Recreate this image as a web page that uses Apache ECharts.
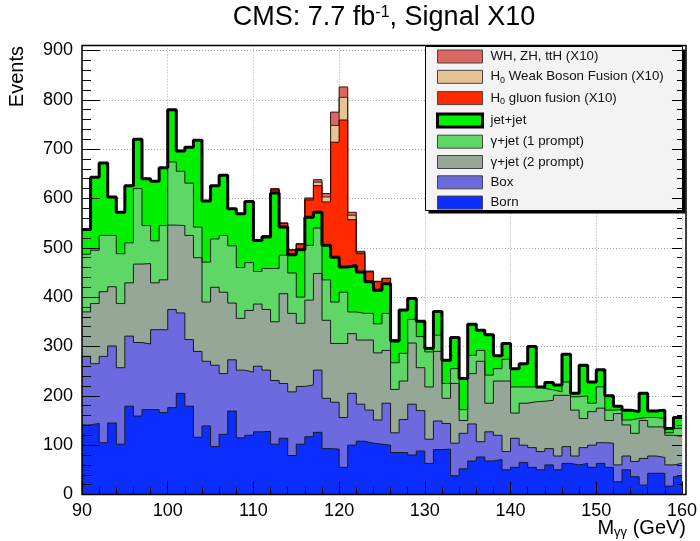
<!DOCTYPE html>
<html>
<head>
<meta charset="utf-8">
<script src="https://cdn.jsdelivr.net/npm/echarts@6/dist/echarts.min.js"></script>
<style>
html, body { margin: 0; padding: 0; background: #fff; }
#chart { width: 700px; height: 541px; }
</style>
</head>
<body>
<div id="chart"></div>
<script>
// Bin edges of the diphoton mass histogram (GeV), 1 GeV bins
const binEdges = [90,91,92,93,94,95,96,97,98,99,100,101,102,103,104,105,106,107,108,109,
  110,111,112,113,114,115,116,117,118,119,120,121,122,123,124,125,126,127,128,129,
  130,131,132,133,134,135,136,137,138,139,140,141,142,143,144,145,146,147,148,149,
  150,151,152,153,154,155,156,157,158,159,160];

// Events per bin for each contribution (bottom of the stack first)
const born = [141,144,105,145,102,179,159,172,172,166, 176,205,179,116,139,97,122,169,115,120,
  127,128,102,114,79,102,117,126,93,92, 55,100,108,104,102,100,85,85,80,88,
  63,91,92,38,52,68,76,68,71,50, 55,65,55,50,60,50,63,60,63,55,
  63,55,26,50,36,19,43,43,17,36];
const box = [139,121,175,156,155,142,149,133,162,168, 199,163,135,174,131,165,123,104,137,128,
  133,124,129,111,129,117,105,126,102,95, 101,105,75,67,49,85,40,67,103,82,
  49,58,52,66,72,75,31,59,49,37, 59,35,40,37,33,28,34,18,32,45,
  42,49,34,28,31,54,35,32,43,27];
const gammaJet2 = [90,122,131,120,130,108,159,163,95,101, 171,177,211,190,120,158,165,115,105,125,
  126,123,119,182,159,128,172,196,158,119, 150,121,130,142,136,107,88,78,124,87,
  106,141,51,121,26,102,163,58,110,143, 51,85,93,102,98,123,104,93,59,68,
  70,46,104,63,57,77,59,62,60,55];
const gammaJet1 = [117,108,114,104,101,81,153,77,85,110, 128,110,106,62,81,98,115,116,103,97,
  66,83,108,78,82,53,111,92,82,84, 104,44,54,54,59,75,54,56,48,63,
  71,33,30,30,22,37,22,57,25,44, 53,33,30,26,21,7,27,27,46,17,
  43,21,8,10,30,6,19,17,5,16];
const jetJet = [50,148,147,78,84,116,100,95,121,117, 106,41,73,176,124,108,122,75,109,124,
  63,64,153,57,37,96,57,32,70,91, 51,94,84,64,68,60,44,88,42,31,
  7,48,47,63,63,63,41,82,26,32, 37,47,82,3,15,14,56,7,62,43,
  35,29,7,20,14,49,13,17,9,22];
// Higgs signal contributions, scaled by 10
const ggH = [0,0,0,0,0,0,0,0,0,0, 0,0,0,0,0,0,0,0,0,0,
  1,2,6,8,10,12,35,54,88,233, 298,93,37,20,17,11,2,0,0,0,
  0,0,0,0,0,0,0,0,0,0, 0,0,0,0,0,0,0,0,0,0,
  0,0,0,0,0,0,0,0,0,0];
const wbf = [0,0,0,0,0,0,0,0,0,0, 0,0,0,0,0,0,0,0,0,0,
  0,0,1,0,0,0,2,7,10,34, 46,9,3,1,1,0,0,0,0,0,
  0,0,0,0,0,0,0,0,0,0, 0,0,0,0,0,0,0,0,0,0,
  0,0,0,0,0,0,0,0,0,0];
const vh = [0,0,0,0,0,0,0,0,0,0, 0,0,0,0,0,0,0,0,0,0,
  0,0,2,0,0,0,2,5,7,27, 21,6,2,1,0,0,0,0,0,0,
  0,0,0,0,0,0,0,0,0,0, 0,0,0,0,0,0,0,0,0,0,
  0,0,0,0,0,0,0,0,0,0];

const FONT = '"Liberation Sans", Arial, Helvetica, sans-serif';

// Stack layers, bottom first
const layers = [
  { name: 'Born', values: born, fill: '#0b2eff', line: '#1a1a1a', width: 1 },
  { name: 'Box', values: box, fill: '#6b6bdf', line: '#1a1a1a', width: 1 },
  { name: 'γ+jet (2 prompt)', values: gammaJet2, fill: '#95a898', line: '#1a1a1a', width: 1 },
  { name: 'γ+jet (1 prompt)', values: gammaJet1, fill: '#5fd767', line: '#1a1a1a', width: 1 },
  { name: 'jet+jet', values: jetJet, fill: '#00f000', line: '#000000', width: 3 },
  { name: 'H0 gluon fusion (X10)', values: ggH, fill: '#ff2a00', line: '#3a0000', width: 1 },
  { name: 'H0 Weak Boson Fusion (X10)', values: wbf, fill: '#e6c392', line: '#3a2a10', width: 1 },
  { name: 'WH, ZH, ttH (X10)', values: vh, fill: '#dc6660', line: '#3a1010', width: 1 }
];

// cumulative totals for the stack
const running = born.map(() => 0);
layers.forEach(l => {
  l.cum = l.values.map((v, i) => (running[i] += v));
});

// each layer is drawn as a filled step histogram from zero; upper layers first
const series = layers.slice().reverse().map(l => ({
  name: l.name,
  type: 'line',
  step: 'end',
  symbol: 'none',
  silent: true,
  animation: false,
  xAxisIndex: 0,
  yAxisIndex: 0,
  z: 2,
  itemStyle: { color: l.fill },
  lineStyle: { color: l.line, width: l.width },
  areaStyle: { color: l.fill, opacity: 1, origin: 'start' },
  data: binEdges.map((x, i) => [x, l.cum[Math.min(i, l.cum.length - 1)]])
}));

const legendOrder = layers.slice().reverse();

const tickAxis = (pos, interval, len, extra) => Object.assign({
  type: 'value', position: pos, min: 0, max: 910, interval: interval, z: 10,
  axisLine: { show: false, onZero: false },
  axisTick: { show: true, inside: true, length: len, lineStyle: { color: '#000', width: 1 } },
  axisLabel: { show: false }, splitLine: { show: false }
}, extra || {});

const chart = echarts.init(document.getElementById('chart'), null, { renderer: 'canvas' });
chart.setOption({
  backgroundColor: '#ffffff',
  animation: false,
  grid: { left: 82, right: 14, top: 45.5, bottom: 46.5, show: false },
  xAxis: [
    {
      type: 'value', position: 'bottom', min: 90, max: 160, interval: 10, z: 0,
      axisLine: { show: false, onZero: false }, axisTick: { show: false },
      axisLabel: { show: true, margin: 8, color: '#000', fontSize: 18, fontFamily: FONT },
      splitLine: { show: true, lineStyle: { color: '#ababab', width: 1, type: [1, 2] } }
    },
    {
      type: 'value', position: 'bottom', min: 90, max: 160, interval: 10, z: 10,
      axisLine: { show: false, onZero: false },
      axisTick: { show: true, inside: true, length: 13, lineStyle: { color: '#000', width: 1 } },
      minorTick: { show: true, splitNumber: 5, length: 7, lineStyle: { color: '#000', width: 1 } },
      axisLabel: { show: false }, splitLine: { show: false }
    }
  ],
  yAxis: [
    {
      type: 'value', position: 'left', min: 0, max: 910, interval: 100, z: 0,
      axisLine: { show: false, onZero: false }, axisTick: { show: false },
      axisLabel: { show: true, margin: 9, color: '#000', fontSize: 18, fontFamily: FONT, showMaxLabel: false },
      splitLine: { show: true, lineStyle: { color: '#ababab', width: 1, type: [1, 2] } }
    },
    tickAxis('left', 100, 18),
    tickAxis('left', 20, 9),
    tickAxis('right', 100, 10),
    tickAxis('right', 20, 5)
  ],
  legend: {
    orient: 'vertical', left: 431, top: 44.5, z: 20,
    itemWidth: 45, itemHeight: 13, itemGap: 6.3, icon: 'rect', selectedMode: false,
    textStyle: {
      fontFamily: FONT, fontSize: 13.3, color: '#111', padding: [0, 0, 0, 3],
      rich: { sub: { fontFamily: FONT, fontSize: 9, color: '#111', verticalAlign: 'bottom', padding: [7, 0, 0, 0] } }
    },
    formatter: name => name.replace(/^H0/, 'H{sub|0}'),
    data: legendOrder.map(l => ({
      name: l.name,
      itemStyle: { color: l.fill, borderColor: l.name === 'jet+jet' ? '#000' : '#444', borderWidth: l.name === 'jet+jet' ? 3 : 1 }
    }))
  },
  graphic: [
    { type: 'rect', z: 5, shape: { x: 428.5, y: 49.5, width: 257, height: 164 }, style: { fill: '#000' } },
    { type: 'rect', z: 6, shape: { x: 425.5, y: 46.5, width: 257, height: 164 }, style: { fill: '#f3f3f3', stroke: '#000', lineWidth: 1 } },
    { type: 'rect', z: 15, shape: { x: 82, y: 45.5, width: 604, height: 449 }, style: { fill: null, stroke: '#000', lineWidth: 1.5 } },
    {
      type: 'text', z: 20, x: 384, y: 18,
      style: {
        text: 'CMS: 7.7 fb{sup|-1}, Signal X10', font: '27px ' + FONT, fill: '#000',
        align: 'center', verticalAlign: 'middle', textAlign: 'center', textVerticalAlign: 'middle',
        rich: { sup: { fontFamily: FONT, fontSize: 16, fill: '#000', verticalAlign: 'top', padding: [0, 0, 10, 0] } }
      }
    },
    {
      type: 'text', z: 20, x: 17, y: 46, rotation: Math.PI / 2,
      style: {
        text: 'Events', font: '20px ' + FONT, fill: '#000',
        align: 'right', verticalAlign: 'middle', textAlign: 'right', textVerticalAlign: 'middle'
      }
    },
    {
      type: 'text', z: 20, x: 686, y: 517,
      style: {
        text: 'M{sub|γγ} (GeV)', font: '20px ' + FONT, fill: '#000',
        align: 'right', verticalAlign: 'top', textAlign: 'right', textVerticalAlign: 'top',
        rich: { sub: { fontFamily: FONT, fontSize: 13, fill: '#000', verticalAlign: 'bottom', padding: [9, 0, 0, 0] } }
      }
    }
  ],
  series: series
});
</script>
</body>
</html>
